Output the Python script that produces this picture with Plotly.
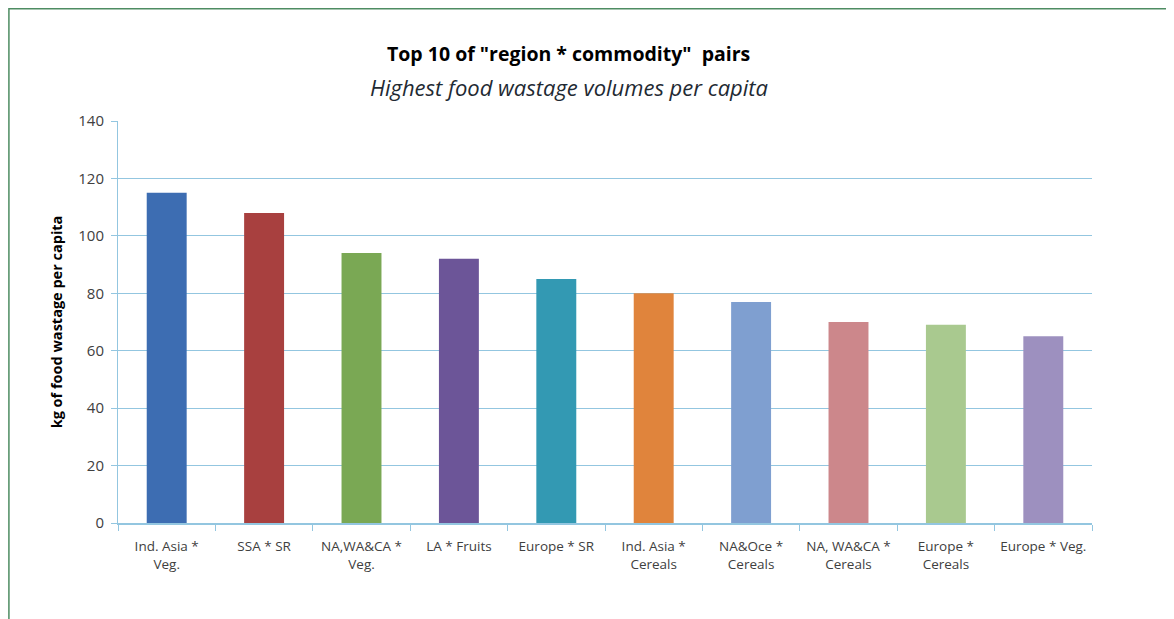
import plotly.graph_objects as go

categories = [
    "Ind. Asia *<br>Veg.", "SSA * SR", "NA,WA&CA *<br>Veg.", "LA * Fruits",
    "Europe * SR", "Ind. Asia *<br>Cereals", "NA&Oce *<br>Cereals",
    "NA, WA&CA *<br>Cereals", "Europe *<br>Cereals", "Europe * Veg.",
]
values = [115, 108, 94, 92, 85, 80, 77, 70, 69, 65]
bar_colors = [
    "#3d6db2", "#a8403f", "#7aa854", "#6c5598", "#3399b3",
    "#e0843c", "#7f9fd0", "#cc878b", "#a9c98f", "#9d90bf",
]
y_ticks = [0, 20, 40, 60, 80, 100, 120, 140]

font = "Open Sans"
grid = "#93c6e0"

fig = go.Figure(go.Bar(
    x=categories,
    y=values,
    marker=dict(color=bar_colors, line=dict(width=0)),
))

# page body adds 8px margin, so the figure is a bit smaller than the window
fig.update_layout(
    width=1166,
    height=611,
    margin=dict(l=110, r=82, t=113, b=96),
    plot_bgcolor="white",
    paper_bgcolor="white",
    bargap=0.59,
    showlegend=False,
    font=dict(family=font, size=13, color="#404040"),
    xaxis=dict(
        tickson="boundaries",
        ticks="outside",
        ticklen=6,
        tickcolor=grid,
        showline=True,
        linecolor=grid,
        linewidth=1.5,
        ticklabelstandoff=10,
        tickfont=dict(size=13.5, color="#404040"),
    ),
    yaxis=dict(
        range=[0, 140],
        tickvals=y_ticks,
        ticks="outside",
        ticklen=6,
        tickcolor=grid,
        showgrid=True,
        gridcolor=grid,
        gridwidth=1,
        showline=True,
        linecolor=grid,
        zeroline=False,
        ticklabelstandoff=4,
        tickfont=dict(size=15, color="#404040"),
        title=dict(
            text="<b>kg of food wastage per capita</b>",
            font=dict(size=14.5, color="#000000"),
            standoff=12,
        ),
    ),
    annotations=[
        dict(
            text='<b>Top 10 of "region * commodity"  pairs</b>',
            xref="paper", yref="paper", x=0.463, y=1.169,
            xanchor="center", yanchor="middle", showarrow=False,
            font=dict(family=font, size=19.5, color="#000000"),
        ),
        dict(
            text="<i>Highest food wastage volumes per capita</i>",
            xref="paper", yref="paper", x=0.463, y=1.084,
            xanchor="center", yanchor="middle", showarrow=False,
            font=dict(family=font, size=22, color="#1f2a33"),
        ),
    ],
    shapes=[
        dict(
            type="rect", xref="paper", yref="paper",
            x0=-0.112, x1=1.2, y0=-0.5, y1=1.279,
            line=dict(color="#4e8c62", width=1.5),
            layer="above",
        ),
    ],
)

fig.write_html("out.html")
